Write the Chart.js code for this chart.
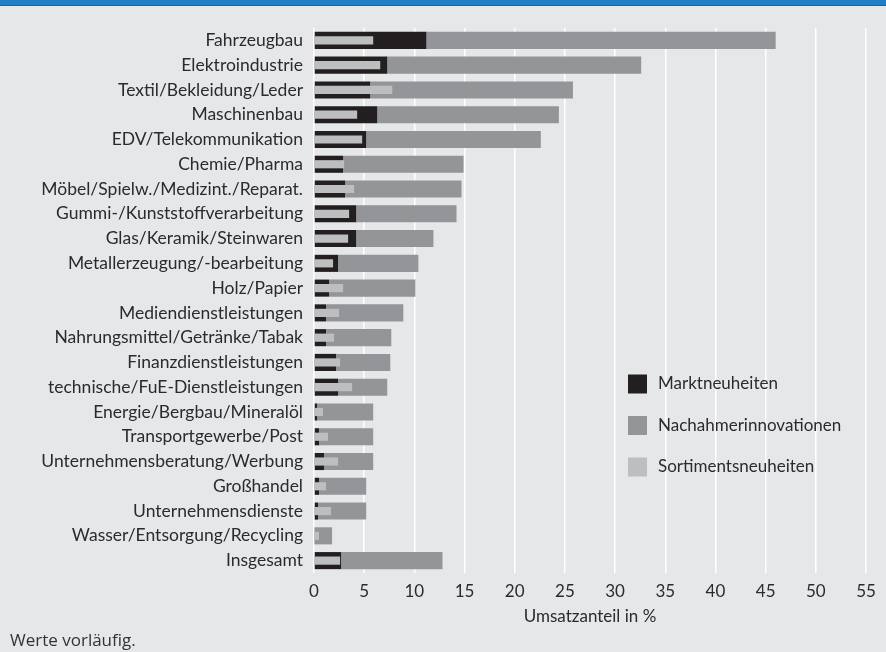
<!DOCTYPE html>
<html lang="de">
<head>
<meta charset="UTF-8">
<script src="https://cdn.jsdelivr.net/npm/chart.js@4.4.0/dist/chart.umd.min.js"></script>
<title>Umsatzanteil Innovationen</title>
<style>
  body { margin: 0; background: #e6e7e9; }
  #wrap { position: relative; width: 886px; height: 652px; overflow: hidden; background: #e6e7e9; }
  #topbar { position: absolute; left: 0; top: 0; width: 886px; height: 5px; background: #1f80c6; border-bottom: 1px solid #1562a6; z-index: 2; }
  #note { position: absolute; left: 10px; top: 628px; font: 17px 'Open Sans', sans-serif; color: #333; }
  canvas { position: absolute; left: 0; top: 0; }
</style>
</head>
<body>
<div id="wrap">
  <div id="topbar"></div>
  <canvas id="chart" width="886" height="652"></canvas>
  <div id="note">Werte vorläufig.</div>
</div>
<script>
// Kategorien (von oben nach unten)
const categories = [
  'Fahrzeugbau', 'Elektroindustrie', 'Textil/Bekleidung/Leder', 'Maschinenbau',
  'EDV/Telekommunikation', 'Chemie/Pharma', 'Möbel/Spielw./Medizint./Reparat.',
  'Gummi-/Kunststoffverarbeitung', 'Glas/Keramik/Steinwaren', 'Metallerzeugung/-bearbeitung',
  'Holz/Papier', 'Mediendienstleistungen', 'Nahrungsmittel/Getränke/Tabak',
  'Finanzdienstleistungen', 'technische/FuE-Dienstleistungen', 'Energie/Bergbau/Mineralöl',
  'Transportgewerbe/Post', 'Unternehmensberatung/Werbung', 'Großhandel',
  'Unternehmensdienste', 'Wasser/Entsorgung/Recycling', 'Insgesamt'
];
// Umsatzanteil in %
const marktneuheiten = [11.2, 7.3, 5.6, 6.3, 5.2, 2.9, 3.1, 4.2, 4.2, 2.4, 1.5, 1.2, 1.2, 2.2, 2.4, 0.3, 0.5, 1.0, 0.5, 0.4, 0.1, 2.7];
const nachahmer = [34.8, 25.3, 20.2, 18.1, 17.4, 12.0, 11.6, 10.0, 7.7, 8.0, 8.6, 7.7, 6.5, 5.4, 4.9, 5.6, 5.4, 4.9, 4.7, 4.8, 1.7, 10.1];
const sortiment = [5.9, 6.6, 7.8, 4.3, 4.8, 3.0, 4.0, 3.5, 3.4, 1.9, 2.9, 2.5, 2.0, 2.6, 3.8, 0.9, 1.4, 2.4, 1.2, 1.7, 0.5, 2.6];
const xTicks = [0, 5, 10, 15, 20, 25, 30, 35, 40, 45, 50, 55];

const textColor = '#2b2b2b';
const fontFam = 'Lato, sans-serif';

// Legende innerhalb der Zeichenfläche
const legendPlugin = {
  id: 'innerLegend',
  afterDraw(chart) {
    const ctx = chart.ctx;
    ctx.save();
    ctx.font = '17px ' + fontFam;
    ctx.textBaseline = 'middle';
    chart.data.datasets.forEach((ds, k) => {
      const cy = 384 + k * 41.5;
      ctx.fillStyle = ds.backgroundColor;
      ctx.fillRect(628, cy - 9.5, 19, 19);
      ctx.fillStyle = textColor;
      ctx.fillText(ds.label, 658, cy);
    });
    ctx.restore();
  }
};

new Chart(document.getElementById('chart'), {
  type: 'bar',
  data: {
    labels: categories,
    datasets: [
      { label: 'Marktneuheiten', data: marktneuheiten, backgroundColor: '#231f20',
        stack: 'main', grouped: false, barPercentage: 0.69, categoryPercentage: 1, order: 2 },
      { label: 'Nachahmerinnovationen', data: nachahmer, backgroundColor: '#939598',
        stack: 'main', grouped: false, barPercentage: 0.69, categoryPercentage: 1, order: 3 },
      { label: 'Sortimentsneuheiten', data: sortiment, backgroundColor: '#bcbec0',
        stack: 'sort', grouped: false, barPercentage: 0.33, categoryPercentage: 1, order: 1 }
    ]
  },
  options: {
    indexAxis: 'y',
    responsive: false,
    animation: false,
    devicePixelRatio: 1,
    layout: { padding: { top: 28, right: 20, bottom: 25, left: 0 } },
    plugins: { legend: { display: false }, tooltip: { enabled: false } },
    scales: {
      x: {
        stacked: true,
        min: 0, max: 55,
        afterBuildTicks: s => { s.ticks = xTicks.map(v => ({ value: v })); },
        afterFit: s => { s.height = 54; },
        grid: { color: '#ffffff', lineWidth: 1.5, drawTicks: false },
        border: { display: false },
        ticks: { color: textColor, font: { family: fontFam, size: 17 }, padding: 8 },
        title: { display: true, text: 'Umsatzanteil in %', color: textColor,
                 font: { family: fontFam, size: 17 }, padding: { top: 4, bottom: 0 } }
      },
      y: {
        stacked: true,
        afterFit: s => { s.width = 314; },
        grid: { display: false, drawTicks: false },
        border: { display: false },
        ticks: { color: textColor, font: { family: fontFam, size: 17.5 }, padding: 11 }
      }
    }
  },
  plugins: [legendPlugin]
});
</script>
</body>
</html>
